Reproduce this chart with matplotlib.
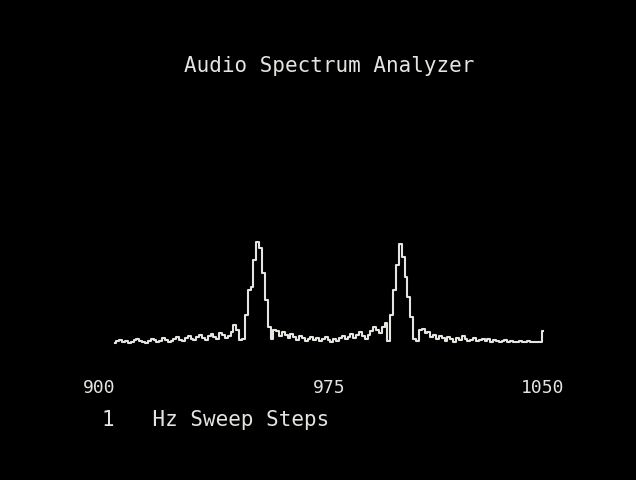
import numpy as np
import matplotlib
matplotlib.use("Agg")
import matplotlib.pyplot as plt

# sweep 900..1050 Hz in 1 Hz steps, level above the floor
freqs = np.arange(900, 1051, 1)
levels = [
    2, 4, 5, 3, 4, 2, 3, 5, 6, 4,
    3, 2, 4, 6, 5, 3, 4, 7, 5, 3,
    4, 6, 8, 5, 4, 7, 9, 6, 5, 8,
    10, 7, 5, 9, 11, 8, 6, 12, 10, 7,
    9, 13, 20, 15, 5, 6, 30, 55, 58, 85,
    103, 97, 72, 45, 18, 6, 15, 14, 9, 13,
    10, 7, 11, 8, 5, 9, 7, 4, 6, 8,
    5, 7, 4, 6, 8, 5, 3, 6, 4, 7,
    9, 6, 8, 11, 7, 10, 13, 9, 6, 10,
    14, 18, 15, 12, 18, 22, 4, 30, 55, 80,
    101, 88, 68, 48, 28, 6, 4, 15, 16, 12,
    13, 8, 10, 6, 9, 7, 4, 8, 6, 3,
    7, 5, 9, 6, 4, 5, 7, 4, 5, 6,
    4, 6, 3, 5, 4, 3, 4, 5, 3, 4,
    3, 3, 4, 3, 3, 4, 3, 3, 3, 3,
    14,
]
tick_vals = [900, 975, 1050]
tick_text = ["900", "975", "1050"]

fg = "#e4e4e0"
mono = "DejaVu Sans Mono"

fig = plt.figure(figsize=(6.36, 4.8), dpi=100, facecolor="black")
ax = fig.add_axes([115 / 636, 115 / 480, 428 / 636, 220 / 480])
ax.set_facecolor("black")

ax.plot(freqs, levels, drawstyle="steps-mid", color=fg, lw=1.5, clip_on=False)

ax.set_xlim(900, 1050)
ax.set_ylim(-20, 200)
for s in ax.spines.values():
    s.set_visible(False)
ax.set_yticks([])
ax.set_xticks(tick_vals)
ax.set_xticklabels(tick_text)
ax.tick_params(axis="x", length=0, pad=10, labelsize=13, labelcolor=fg)
for lab in ax.get_xticklabels():
    lab.set_fontfamily(mono)
ax.get_xticklabels()[0].set_ha("right")

fig.text(0.518, 1 - 66 / 480, "Audio Spectrum Analyzer", color=fg,
         fontsize=15, family=mono, ha="center", va="center")
fig.text(102 / 636, 1 - 420 / 480, "1   Hz Sweep Steps", color=fg,
         fontsize=15, family=mono, ha="left", va="center")

fig.savefig("out.png", dpi=100, facecolor="black")
